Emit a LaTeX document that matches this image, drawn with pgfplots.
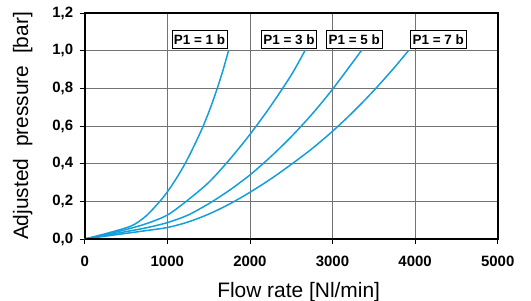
\documentclass[border=0pt]{standalone}
\usepackage{pgfplots}
\pgfplotsset{compat=1.18}
\usepackage{fontspec}
\setmainfont{Liberation Sans}
\definecolor{curve}{RGB}{20,158,218}
\begin{document}
\begin{tikzpicture}[x=1bp,y=1bp]
\useasboundingbox (-84.7,-61) rectangle (446.3,239);
\begin{axis}[
  scale only axis, width=413bp, height=226bp,
  xmin=0, xmax=5000, ymin=0, ymax=1.2,
  xtick={0,1000,2000,3000,4000,5000},
  ytick={0,0.2,0.4,0.6,0.8,1.0,1.2},
  grid=major,
  major grid style={black!55, line width=0.5bp},
  axis line style={line width=2bp},
  tick align=outside, xtick pos=left, ytick pos=left,
  major tick length=5bp,
  tick style={black, line width=0.7bp},
  /pgf/number format/assume math mode=true,
  ticklabel style={font=\fontsize{15}{18}\selectfont\bfseries},
  xticklabel style={/pgf/number format/1000 sep={}, yshift=-9bp},
  yticklabel style={/pgf/number format/.cd, fixed, fixed zerofill, precision=1, use comma, /tikz/xshift=-3bp},
  xlabel={Flow rate [Nl/min]},
  ylabel={Adjusted\ \ pressure\ \ [bar]},
  label style={font=\fontsize{21}{24}\selectfont},
  xlabel style={at={(axis description cs:0.518,-0.2566)}, anchor=base},
  ylabel style={at={(axis description cs:-0.15,0.5)}, anchor=center},
]
% P1 = 1 b
\addplot[curve, line width=1.5bp, smooth, tension=0.5, mark=none] coordinates {(0,0) (250,0.028) (484,0.057) (600,0.077) (750,0.125) (910,0.2) (1000,0.25) (1100,0.315) (1215,0.4) (1330,0.5) (1435,0.6) (1525,0.7) (1605,0.8) (1677,0.9) (1741,1.0)};
% P1 = 3 b
\addplot[curve, line width=1.5bp, smooth, tension=0.5, mark=none] coordinates {(0,0) (250,0.024) (500,0.05) (750,0.082) (1000,0.127) (1229,0.2) (1500,0.3) (1750,0.42) (2000,0.555) (2250,0.705) (2500,0.87) (2666,1.0)};
% P1 = 5 b
\addplot[curve, line width=1.5bp, smooth, tension=0.5, mark=none] coordinates {(0,0) (250,0.02) (500,0.039) (750,0.06) (1000,0.087) (1250,0.127) (1500,0.187) (1750,0.258) (2000,0.34) (2250,0.436) (2500,0.543) (2750,0.662) (3000,0.795) (3349,1.0)};
% P1 = 7 b
\addplot[curve, line width=1.5bp, smooth, tension=0.5, mark=none] coordinates {(0,0) (250,0.015) (500,0.03) (750,0.045) (1000,0.061) (1250,0.09) (1500,0.132) (1750,0.185) (2000,0.248) (2250,0.318) (2500,0.396) (2750,0.479) (3000,0.572) (3250,0.675) (3500,0.788) (3750,0.911) (3919,1.0)};
\draw[line width=3bp] (rel axis cs:0,1) -- (rel axis cs:0,0) -- (rel axis cs:1,0);
\begin{scope}[every node/.style={draw=black, line width=0.6bp, fill=white, inner xsep=2bp, inner ysep=4bp, font=\fontsize{13.5}{15}\selectfont\bfseries}]
\node at (axis cs:1389,1.06) {P1 = 1 b};
\node at (axis cs:2473,1.06) {P1 = 3 b};
\node at (axis cs:3263,1.06) {P1 = 5 b};
\node at (axis cs:4280,1.06) {P1 = 7 b};
\end{scope}
\end{axis}
\end{tikzpicture}
\end{document}
